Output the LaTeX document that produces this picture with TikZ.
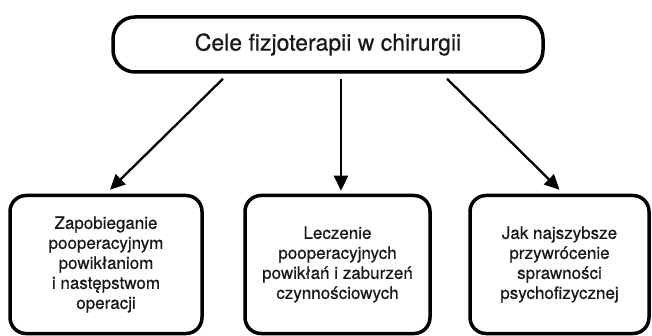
\documentclass[tikz,border=0pt]{standalone}
\usepackage{fontspec}
\setmainfont{TeX Gyre Heros}[FakeBold=0.5]
\newfontfamily\boxfont{TeX Gyre Heros}[FakeBold=0.6]
\usetikzlibrary{arrows.meta}
\tikzset{
  topbox/.style={draw=black, line width=3.5pt, rounded corners=22pt, minimum width=430pt, minimum height=55pt, inner sep=0pt, font=\boxfont\fontsize{23}{27}\selectfont, text=black!90},
  goalbox/.style={draw=black, line width=3.5pt, rounded corners=16pt, minimum height=138pt, inner sep=0pt, align=center, font=\boxfont\fontsize{17}{20}\selectfont, text=black!90},
  arr/.style={line width=2.3pt, -{Triangle[length=15pt,width=14pt]}}
}
\begin{document}
\begin{tikzpicture}[x=1pt,y=-1pt]
\useasboundingbox (0,0) rectangle (652,336);
\node[topbox] (top) at (328,44.5) {Cele fizjoterapii w chirurgii};
\node[goalbox, minimum width=192pt] (b1) at (106,264.5) {Zapobieganie\\pooperacyjnym\\powikłaniom\\i następstwom\\operacji};
\node[goalbox, minimum width=185pt] (b2) at (337.5,264.5) {Leczenie\\pooperacyjnych\\powikłań i zaburzeń\\czynnościowych};
\node[goalbox, minimum width=179pt] (b3) at (559.5,264.5) {Jak najszybsze\\przywrócenie\\sprawności\\psychofizycznej};
\draw[arr] ([xshift=-105pt,yshift=-5pt]top.south) -- ([xshift=4pt,yshift=4pt]b1.north);
\draw[arr] ([xshift=13pt,yshift=-5pt]top.south) -- ([xshift=3.5pt,yshift=3pt]b2.north);
\draw[arr] ([xshift=119pt,yshift=-5pt]top.south) -- ([xshift=0pt,yshift=4pt]b3.north);
\end{tikzpicture}
\end{document}
